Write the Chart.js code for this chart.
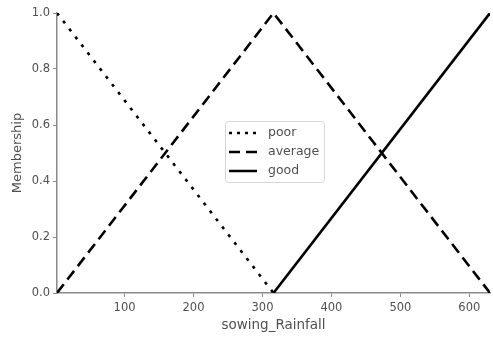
<!DOCTYPE html>
<html>
<head>
<meta charset="utf-8">
<script src="https://cdn.jsdelivr.net/npm/chart.js@4"></script>
<style>
  html, body { margin: 0; padding: 0; background: #ffffff; }
  #wrap { width: 493px; height: 340px; }
</style>
</head>
<body>
<div id="wrap"><canvas id="chart" width="493" height="340"></canvas></div>
<script>
// membership functions of sowing_Rainfall (breakpoints)
const seriesNames = ["poor", "average", "good"];
const poorX = [2, 316];
const poorY = [1, 0];
const averageX = [2, 316, 630];
const averageY = [0, 1, 0];
const goodX = [316, 630];
const goodY = [0, 1];
const xTicks = [100, 200, 300, 400, 500, 600];
const yTicks = [0, 0.2, 0.4, 0.6, 0.8, 1.0];

const dashes = [[3, 7], [11, 6], []];
const axisGray = "#8a8a8a";
const textGray = "#505050";

function toPoints(xs, ys) {
  return xs.map((x, i) => ({ x: x, y: ys[i] }));
}

// legend drawn inside the plot, the way matplotlib puts it
const innerLegend = {
  id: "innerLegend",
  afterDraw(chart) {
    const ctx = chart.ctx;
    const left = 225, top = 121, w = 99, h = 61;
    ctx.save();
    ctx.fillStyle = "rgba(255,255,255,0.85)";
    ctx.strokeStyle = "#d6d6d6";
    ctx.lineWidth = 1;
    ctx.beginPath();
    ctx.roundRect(left + 0.5, top + 0.5, w, h, 3);
    ctx.fill();
    ctx.stroke();

    ctx.font = "12.5px 'DejaVu Sans'";
    ctx.textBaseline = "middle";
    chart.data.datasets.forEach((ds, i) => {
      const y = top + 12 + i * 19;
      ctx.strokeStyle = "#000";
      ctx.lineWidth = 2.5;
      ctx.setLineDash(i === 0 ? [3, 5] : ds.borderDash);
      ctx.beginPath();
      ctx.moveTo(left + 4, y);
      ctx.lineTo(left + 32, y);
      ctx.stroke();
      ctx.setLineDash([]);
      ctx.fillStyle = textGray;
      ctx.fillText(ds.label, left + 43, y);
    });
    ctx.restore();
  }
};

const ctx = document.getElementById("chart").getContext("2d");

new Chart(ctx, {
  type: "line",
  plugins: [innerLegend],
  data: {
    datasets: [
      { label: seriesNames[0], data: toPoints(poorX, poorY), borderDash: dashes[0] },
      { label: seriesNames[1], data: toPoints(averageX, averageY), borderDash: dashes[1] },
      { label: seriesNames[2], data: toPoints(goodX, goodY), borderDash: dashes[2] },
    ].map(ds => Object.assign(ds, {
      borderColor: "#000000",
      borderWidth: 2.6,
      pointRadius: 0,
      tension: 0,
      fill: false,
    })),
  },
  options: {
    responsive: false,
    animation: false,
    layout: { padding: { top: 13, right: 3, left: 0, bottom: 0 } },
    scales: {
      x: {
        type: "linear",
        min: 2,
        max: 630,
        afterBuildTicks: (scale) => { scale.ticks = xTicks.map(v => ({ value: v })); },
        afterFit: (scale) => { scale.height = 47; },
        grid: { drawOnChartArea: false, drawTicks: true, tickLength: 4, color: axisGray },
        border: { color: axisGray, width: 1.5 },
        ticks: { color: textGray, font: { family: "DejaVu Sans", size: 11.5 }, padding: 4, maxRotation: 0 },
        title: { display: true, text: "sowing_Rainfall", color: textGray, font: { family: "DejaVu Sans", size: 13.5 }, padding: { top: 2, bottom: 6 } },
      },
      y: {
        type: "linear",
        min: 0,
        max: 1,
        afterBuildTicks: (scale) => { scale.ticks = yTicks.map(v => ({ value: v })); },
        afterFit: (scale) => { scale.width = 57; },
        grid: { drawOnChartArea: false, drawTicks: true, tickLength: 4, color: axisGray },
        border: { color: axisGray, width: 1.5 },
        ticks: {
          color: textGray,
          font: { family: "DejaVu Sans", size: 11.5 },
          padding: 3,
          callback: (value) => Number(value).toFixed(1),
        },
        title: { display: true, text: "Membership", color: textGray, font: { family: "DejaVu Sans", size: 13 }, padding: { top: 10, bottom: 2 } },
      },
    },
    plugins: {
      legend: { display: false },
      tooltip: { enabled: false },
    },
  },
});
</script>
</body>
</html>
